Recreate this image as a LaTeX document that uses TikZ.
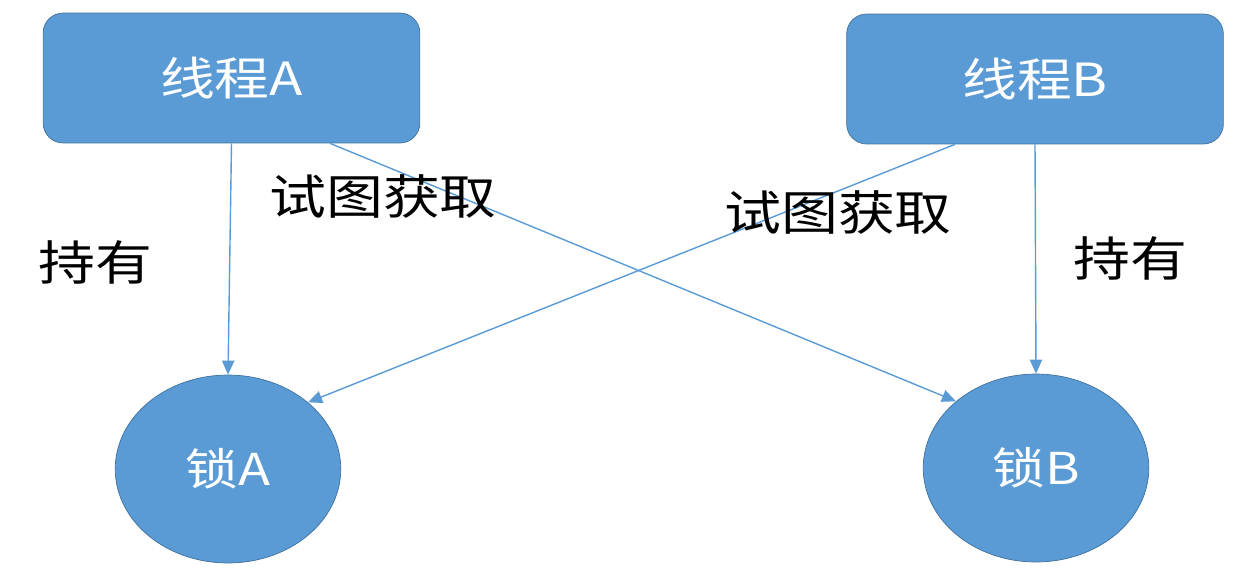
\documentclass[tikz,border=0pt]{standalone}
\usepackage{fontspec}
\newfontfamily\cjk{Noto Sans CJK SC}
\usetikzlibrary{arrows.meta}
\definecolor{boxblue}{RGB}{91,155,213}
\definecolor{edgeblue}{RGB}{65,113,156}

\begin{document}
\begin{tikzpicture}[x=0.02cm, y=-0.02cm,
  thread/.style={draw=edgeblue, fill=boxblue, rounded corners=0.4cm,
    minimum width=6.28cm, minimum height=2.6cm, text=white,
    font=\cjk\fontsize{26}{30}\selectfont, transform shape, xscale=1.2},
  lock/.style={circle, draw=edgeblue, fill=boxblue, minimum size=3.76cm,
    inner sep=0pt, text=white, font=\cjk\fontsize{25}{30}\selectfont,
    transform shape, xscale=1.2},
  lbl/.style={font=\cjk\fontsize{27}{32}\selectfont, transform shape, xscale=1.2},
  link/.style={draw=boxblue, line width=0.8pt, -{Triangle[length=8pt,width=7pt]}}]

  \useasboundingbox (0,0) rectangle (1250,575);

  % 线程与锁
  \node[thread] (thA) at (231.5,78) {线程A};
  \node[thread] (thB) at (1035,79) {线程B};
  \node[lock] (lockA) at (228,469) {锁A};
  \node[lock] (lockB) at (1036,468) {锁B};

  % 持有
  \draw[link] (thA.south) -- (lockA.north);
  \draw[link] (thB.south) -- (lockB.north);

  % 试图获取（交叉）
  \draw[link] ([xshift=1.97cm]thA.south) -- (lockB.north west);
  \draw[link] ([xshift=-1.6cm]thB.south) -- (lockA.north east);

  % 文字
  \node[lbl] (getA) at (383,197) {试图获取};
  \node[lbl] (getB) at (838,213) {试图获取};
  \node[lbl] (holdA) at (95,262) {持有};
  \node[lbl] (holdB) at (1130,258) {持有};

\end{tikzpicture}
\end{document}
